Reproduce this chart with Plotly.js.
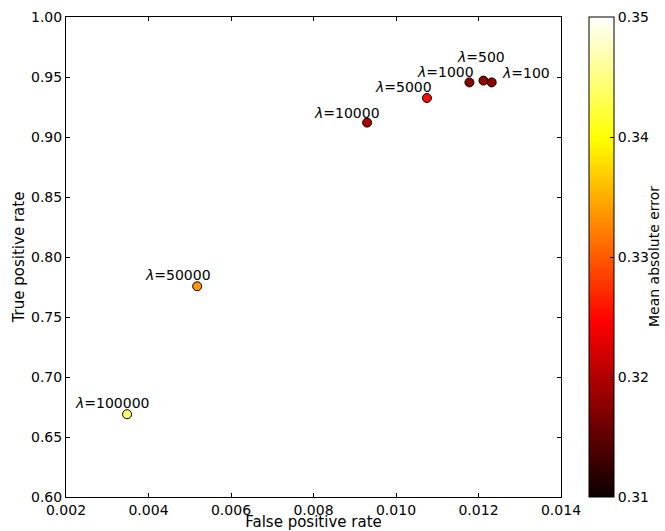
<!DOCTYPE html>
<html>
<head>
<meta charset="utf-8">
<script src="https://cdn.plot.ly/plotly-3.0.1.min.js"></script>
<style>html,body{margin:0;padding:0;background:#fff;}#chart{width:665px;height:531px;}</style>
</head>
<body>
<div id="chart"></div>
<script>
// Data
const lambdas = ["100", "500", "1000", "5000", "10000", "50000", "100000"];
const falsePositiveRate = [0.01232, 0.01212, 0.01178, 0.01075, 0.00930, 0.00518, 0.00348];
const truePositiveRate = [0.9455, 0.9470, 0.9455, 0.9325, 0.9120, 0.7756, 0.6690];
const meanAbsoluteError = [0.3180, 0.3182, 0.3178, 0.3252, 0.3198, 0.3336, 0.3442];
const xTicks = [0.002, 0.004, 0.006, 0.008, 0.010, 0.012, 0.014];
const yTicks = [0.60, 0.65, 0.70, 0.75, 0.80, 0.85, 0.90, 0.95, 1.00];
const cTicks = [0.31, 0.32, 0.33, 0.34, 0.35];

// Label placement (pixel offsets of each label's left/middle from its point)
const labelDx = [9, -27, -53, -53, -54, -53, -53];
const labelDy = [9, 24, 10, 11, 10, 11, 11];

const hot = [
  [0, 'rgb(11,0,0)'],
  [0.365079, 'rgb(255,0,0)'],
  [0.746032, 'rgb(255,255,0)'],
  [1, 'rgb(255,255,255)']
];

const font = {family: 'DejaVu Sans', size: 14, color: '#000'};
const titleFont = {family: 'DejaVu Sans', size: 15, color: '#000'};

const trace = {
  type: 'scatter',
  mode: 'markers',
  x: falsePositiveRate,
  y: truePositiveRate,
  marker: {
    size: 9,
    color: meanAbsoluteError,
    cmin: 0.31,
    cmax: 0.35,
    colorscale: hot,
    line: {color: '#000', width: 1},
    showscale: true,
    colorbar: {
      x: (589 - 66) / 495,
      xanchor: 'left',
      xpad: 0,
      ypad: 0,
      y: 0.5,
      yanchor: 'middle',
      len: 1,
      lenmode: 'fraction',
      thickness: 25,
      thicknessmode: 'pixels',
      outlinewidth: 1,
      outlinecolor: '#000',
      borderwidth: 0,
      tickvals: cTicks,
      ticktext: cTicks.map(v => v.toFixed(2)),
      ticks: 'inside',
      ticklen: 4,
      tickcolor: '#000',
      tickfont: font
    }
  },
  hoverinfo: 'x+y'
};

const annotations = lambdas.map((l, i) => ({
  x: falsePositiveRate[i],
  y: truePositiveRate[i],
  xref: 'x',
  yref: 'y',
  text: '<i>λ</i>=' + l,
  showarrow: false,
  xanchor: 'left',
  yanchor: 'middle',
  xshift: labelDx[i],
  yshift: labelDy[i],
  font: font,
  borderpad: 0
}));

annotations.push({
  xref: 'paper',
  yref: 'paper',
  x: (654 - 66) / 495,
  y: 0.5,
  xanchor: 'center',
  yanchor: 'middle',
  textangle: -90,
  text: 'Mean absolute error',
  showarrow: false,
  font: font
});

const layout = {
  width: 665,
  height: 531,
  margin: {l: 66, r: 104, t: 17, b: 34, autoexpand: false},
  paper_bgcolor: '#fff',
  plot_bgcolor: '#fff',
  font: font,
  showlegend: false,
  xaxis: {
    range: [0.002, 0.014],
    tickvals: xTicks,
    ticktext: xTicks.map(v => v.toFixed(3)),
    ticks: 'inside',
    ticklen: 4,
    tickcolor: '#000',
    showline: true,
    linecolor: '#000',
    linewidth: 1,
    mirror: 'ticks',
    showgrid: false,
    zeroline: false,
    tickfont: font,
    title: {text: 'False positive rate', font: titleFont, standoff: 6}
  },
  yaxis: {
    range: [0.60, 1.00],
    tickvals: yTicks,
    ticktext: yTicks.map(v => v.toFixed(2)),
    ticks: 'inside',
    ticklen: 4,
    tickcolor: '#000',
    showline: true,
    linecolor: '#000',
    linewidth: 1,
    mirror: 'ticks',
    showgrid: false,
    zeroline: false,
    tickfont: font,
    title: {text: 'True positive rate', font: titleFont, standoff: 2}
  },
  annotations: annotations
};

Plotly.newPlot('chart', [trace], layout, {displayModeBar: false, staticPlot: true});
</script>
</body>
</html>
